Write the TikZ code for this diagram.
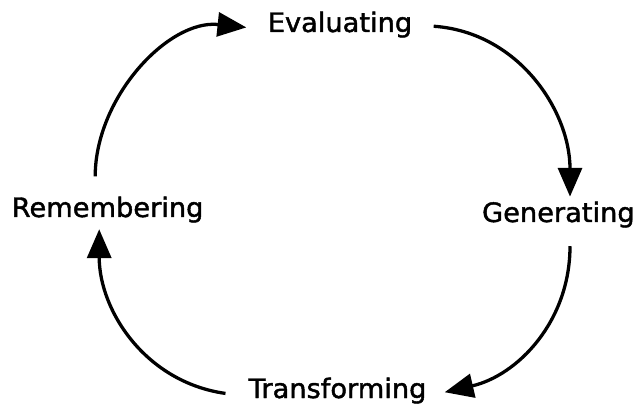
\documentclass[tikz,border=0pt]{standalone}
\usepackage{fontspec}
\newfontfamily\stagefont{DejaVu Sans}[FakeStretch=1.02,FakeBold=1.6]
\usetikzlibrary{arrows.meta}
\tikzset{
  stage/.style={inner sep=0pt, anchor=base, font=\stagefont\fontsize{19}{23}\selectfont},
  cyclearrow/.style={line width=0.082cm, -{Triangle[length=0.72cm,width=0.60cm]}},
}

\begin{document}
\begin{tikzpicture}
            \useasboundingbox (0,0) rectangle (15.850000,10.100000);%

            % Placing stage Evaluating
            \node [stage] (eval) at (8.500000,9.300000) {Evaluating};%

            % Placing stage Generating
            \node [stage] (gen) at (13.960000,4.550000) {Generating};%

            % Placing stage Transforming
            \node [stage] (trans) at (8.440000,0.150000) {Transforming};%

            % Placing stage Remembering
            \node [stage] (rem) at (2.690000,4.675000) {Remembering};%

            % Drawing arc Remembering Evaluating
            \draw [cyclearrow] ([xshift=-0.31cm,yshift=0.50cm]rem.north) to [out=90,in=174,looseness=0.95] ([xshift=-0.53cm,yshift=-0.07cm]eval.west);%

            % Drawing arc Evaluating Generating
            \draw [cyclearrow] ([xshift=0.53cm,yshift=-0.04cm]eval.east) to [out=-4,in=90,looseness=1.0] ([xshift=0.29cm,yshift=0.12cm]gen.north);%

            % Drawing arc Generating Transforming
            \draw [cyclearrow] ([xshift=0.29cm,yshift=-0.46cm]gen.south) to [out=-90,in=13] ([xshift=0.45cm,yshift=-0.04cm]trans.east);%

            % Drawing arc Transforming Remembering
            \draw [cyclearrow] ([xshift=-0.575cm,yshift=-0.07cm]trans.west) to [out=172,in=-90] ([xshift=-0.21cm,yshift=-0.16cm]rem.south);%
\end{tikzpicture}
\end{document}
